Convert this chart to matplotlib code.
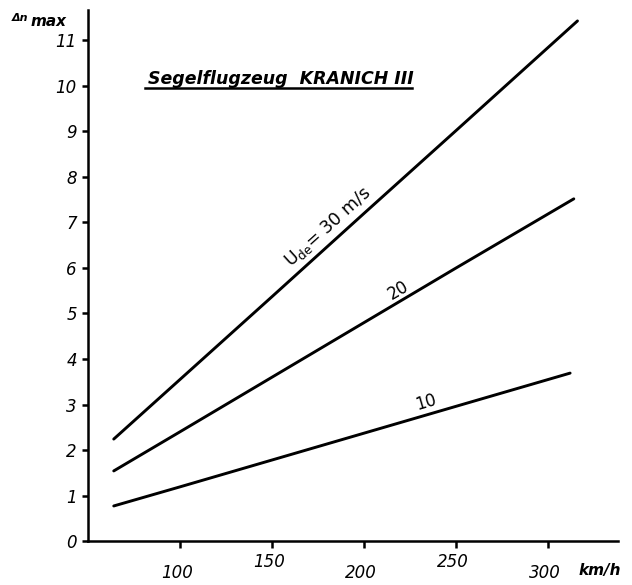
import numpy as np
import matplotlib
matplotlib.use("Agg")
import matplotlib.pyplot as plt
from matplotlib.lines import Line2D

# gust load factor vs. flight speed, one line per gust velocity
speed_30 = [64, 100, 150, 200, 250, 316]
dn_30 = [2.24, 3.55, 5.37, 7.20, 9.02, 11.43]

speed_20 = [64, 100, 150, 200, 250, 314]
dn_20 = [1.54, 2.40, 3.60, 4.80, 6.00, 7.52]

speed_10 = [64, 100, 150, 200, 250, 312]
dn_10 = [0.77, 1.19, 1.78, 2.37, 2.96, 3.69]

x_ticks = [100, 150, 200, 250, 300]
y_ticks = list(range(0, 12))

fig = plt.figure(figsize=(6.32, 5.85), dpi=100)
ax = fig.add_axes([0.1392, 0.0752, 0.8386, 0.9077])

for v, dn in [(speed_30, dn_30), (speed_20, dn_20), (speed_10, dn_10)]:
    ax.plot(v, dn, color="black", lw=2.1, solid_capstyle="round")

ax.set_xlim(50, 338)
ax.set_ylim(0, 11.67)

for side in ["top", "right"]:
    ax.spines[side].set_visible(False)
for side in ["left", "bottom"]:
    ax.spines[side].set_linewidth(1.8)

ax.set_yticks(y_ticks)
ax.set_yticklabels([str(t) for t in y_ticks], fontsize=12, style="italic")
ax.tick_params(axis="y", length=4, width=1.8, pad=4)

# x tick labels are staggered up and down
ax.set_xticks(x_ticks)
ax.set_xticklabels([])
ax.tick_params(axis="x", length=5, width=1.8)
for i, t in enumerate(x_ticks):
    dy = -23 if i % 2 == 0 else -15
    ax.annotate(str(t), xy=(t, 0), xycoords=("data", "axes fraction"),
                xytext=(-2, dy), textcoords="offset points",
                ha="center", va="center", fontsize=12, style="italic")

ax.annotate("km/h", xy=(1.0, 0), xycoords="axes fraction",
            xytext=(-13, -21.5), textcoords="offset points",
            ha="center", va="center", fontsize=11, style="italic",
            weight="bold")

fig.text(0.019, 0.970, "Δn", fontsize=8, style="italic", weight="bold",
         ha="left", va="center")
fig.text(0.049, 0.963, "max", fontsize=11, style="italic", weight="bold",
         ha="left", va="center")

# title with underline
ax.text(0.113, 0.861, "Segelflugzeug  KRANICH III", transform=ax.transAxes,
        fontsize=12.5, style="italic", weight="bold", ha="left", va="baseline")
ax.add_line(Line2D([0.108, 0.612], [0.853, 0.853], transform=ax.transAxes,
                   color="black", lw=1.8))


def slope_angle(v, dn):
    p0 = ax.transData.transform((v[0], dn[0]))
    p1 = ax.transData.transform((v[-1], dn[-1]))
    return np.degrees(np.arctan2(p1[1] - p0[1], p1[0] - p0[0]))


ax.text(180.4, 6.90, r"U$_{\mathregular{de}}$= 30 m/s",
        rotation=slope_angle(speed_30, dn_30), rotation_mode="anchor",
        ha="center", va="center", fontsize=12.5)
ax.text(218.5, 5.52, "20", rotation=slope_angle(speed_20, dn_20),
        rotation_mode="anchor", ha="center", va="center", fontsize=12)
ax.text(233.7, 3.05, "10", rotation=slope_angle(speed_10, dn_10),
        rotation_mode="anchor", ha="center", va="center", fontsize=12)

fig.savefig("out.png", dpi=100)
